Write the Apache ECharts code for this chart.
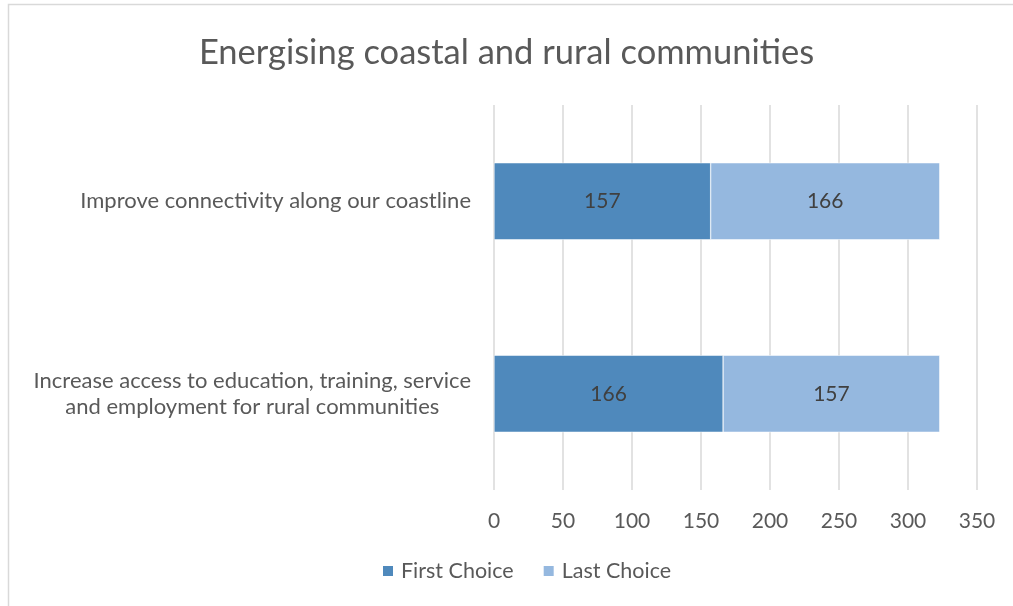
<!DOCTYPE html>
<html>
<head>
<meta charset="utf-8">
<title>Energising coastal and rural communities</title>
<style>
  html, body { margin: 0; padding: 0; background: #fff; }
  #page { width: 1013px; height: 606px; }
</style>
</head>
<body>
<div id="page"></div>
<script src="https://cdn.jsdelivr.net/npm/echarts@6/dist/echarts.min.js"></script>
<script>
var categories = [
    'Increase access to education, training, service\nand employment for rural communities',
    'Improve connectivity along our coastline'
];
var firstChoice = [166, 157];
var lastChoice = [157, 166];
var xTicks = [0, 50, 100, 150, 200, 250, 300, 350];

(function () {
    var font = 'Lato, "Open Sans", sans-serif';
    var textColor = '#595959';
    var chart = echarts.init(document.getElementById('page'));

    var barLabel = {
        show: true,
        position: 'inside',
        color: '#404040',
        fontFamily: font,
        fontSize: 21
    };

    var option = {
        backgroundColor: '#fff',
        animation: false,
        // light frame, only left and top edges show in the picture
        graphic: [{
            type: 'rect',
            shape: { x: 8.5, y: 4.5, width: 1100, height: 700 },
            style: { fill: 'none', stroke: '#d9d9d9', lineWidth: 1.5 },
            silent: true
        }],
        title: {
            text: 'Energising coastal and rural communities',
            left: 'center',
            top: 30,
            textStyle: { color: textColor, fontFamily: font, fontWeight: 'normal', fontSize: 34.5 }
        },
        legend: {
            bottom: 19,
            left: 376,
            itemWidth: 12,
            itemHeight: 12,
            itemGap: 28,
            icon: 'rect',
            textStyle: { color: textColor, fontFamily: font, fontSize: 21.5, padding: [0, 0, 0, 2] },
            data: ['First Choice', 'Last Choice']
        },
        grid: { left: 494, right: 36, top: 105, bottom: 116, containLabel: false },
        xAxis: {
            type: 'value',
            min: xTicks[0],
            max: xTicks[xTicks.length - 1],
            interval: 50,
            axisLine: { show: false },
            axisTick: { show: false },
            axisLabel: { color: textColor, fontFamily: font, fontSize: 21, margin: 21 },
            splitLine: { lineStyle: { color: '#d9d9d9', width: 1.5 } }
        },
        yAxis: {
            type: 'category',
            data: categories,
            axisLine: { show: false },
            axisTick: { show: false },
            axisLabel: {
                margin: 23,
                align: 'right',
                formatter: function (v) {
                    return v.split('\n').map(function (s) { return '{c|' + s + '}'; }).join('\n');
                },
                rich: {
                    c: { align: 'center', color: textColor, fontFamily: font, fontSize: 22, lineHeight: 26 }
                }
            }
        },
        series: [{
            name: 'First Choice',
            type: 'bar',
            stack: 'total',
            barWidth: '40%',
            itemStyle: { color: '#4f89bc', borderColor: '#ffffff', borderWidth: 0.5 },
            label: barLabel,
            data: firstChoice
        }, {
            name: 'Last Choice',
            type: 'bar',
            stack: 'total',
            barWidth: '40%',
            itemStyle: { color: '#95b8df', borderColor: '#ffffff', borderWidth: 0.5 },
            label: barLabel,
            data: lastChoice
        }]
    };
    chart.setOption(option);
})();
</script>
</body>
</html>
